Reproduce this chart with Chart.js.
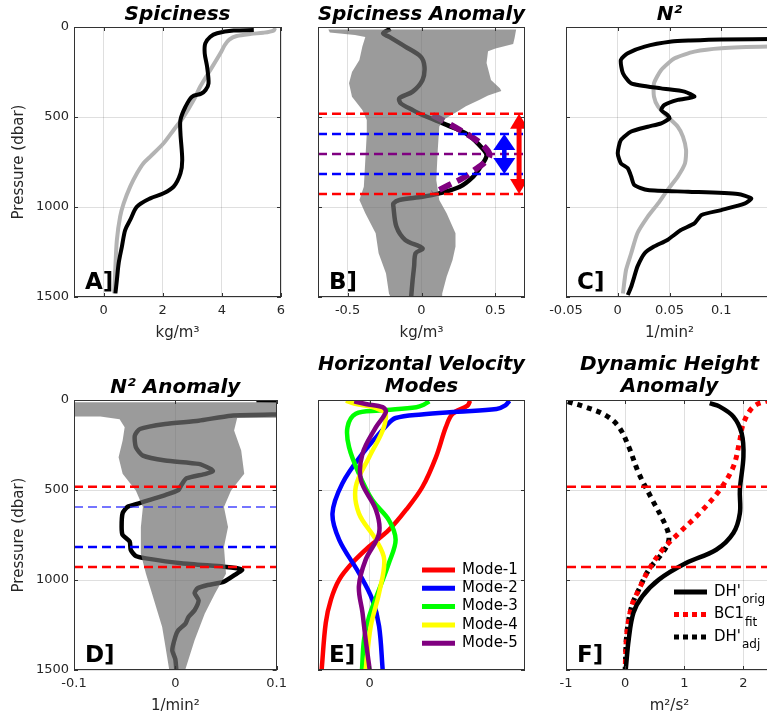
<!DOCTYPE html>
<html>
<head>
<meta charset="utf-8">
<script src="https://cdn.jsdelivr.net/npm/chart.js@4.4.1/dist/chart.umd.min.js"></script>
<style>
  html, body { margin: 0; padding: 0; background: #fff; width: 767px; height: 721px; overflow: hidden; }
  canvas { position: absolute; }
</style>
</head>
<body>
<canvas id="panelA" width="293" height="342" style="left:0px;top:0px"></canvas>
<canvas id="panelB" width="293" height="342" style="left:244px;top:0px"></canvas>
<canvas id="panelC" width="293" height="342" style="left:492px;top:0px"></canvas>
<canvas id="panelD" width="293" height="375" style="left:0px;top:340px"></canvas>
<canvas id="panelE" width="293" height="375" style="left:244px;top:340px"></canvas>
<canvas id="panelF" width="293" height="375" style="left:492px;top:340px"></canvas>
<script>
// ---------------- data: every profile is a list of [pressure (dbar), value] ----------------
const pressureTicks = [0, 500, 1000, 1500];

// A] spiciness (kg/m^3)
const spiceTicks = [0, 2, 4, 6];
const spiceMean = [[5,5.8],[20,5.75],[32,5.4],[38,5.0],[50,4.5],[70,4.25],[100,4.1],[146,3.95],[239,3.61],[331,3.27],[405,3.05],[498,2.71],[572,2.37],[646,2.03],[720,1.58],[757,1.35],[813,1.13],[887,0.9],[980,0.68],[1054,0.56],[1183,0.45],[1331,0.4],[1480,0.36]];
const spiceStation = [[17,5.08],[20,4.4],[35,3.84],[54,3.61],[91,3.44],[146,3.42],[220,3.5],[313,3.55],[350,3.45],[370,3.3],[387,2.99],[443,2.77],[516,2.6],[591,2.6],[739,2.66],[813,2.6],[887,2.37],[924,2.03],[952,1.58],[998,1.13],[1072,0.9],[1128,0.73],[1220,0.62],[1313,0.51],[1406,0.45],[1480,0.4]];

// B] spiciness anomaly (kg/m^3)
const spiceAnomTicks = [-0.5, 0, 0.5];
const spiceAnom = [[10,-0.21],[35,-0.26],[54,-0.22],[109,-0.11],[165,-0.005],[220,0.02],[294,0.007],[359,-0.06],[396,-0.15],[424,-0.14],[461,-0.06],[489,0.007],[544,0.17],[591,0.3],[655,0.39],[711,0.44],[776,0.4],[831,0.35],[887,0.26],[924,0.12],[943,0.007],[961,-0.15],[980,-0.19],[998,-0.19],[1109,-0.17],[1183,-0.11],[1230,0.007],[1257,-0.04],[1331,-0.05],[1406,-0.06],[1500,-0.07]];
const spiceAnomFit = [[489,0.075],[530,0.17],[572,0.26],[628,0.37],[670,0.43],[711,0.46],[750,0.43],[776,0.39],[839,0.28],[880,0.18],[924,0.075]];
const spiceAnomEnvLow = [[14,-0.63],[30,-0.62],[45,-0.45],[55,-0.38],[109,-0.4],[183,-0.42],[250,-0.47],[313,-0.49],[387,-0.47],[461,-0.4],[516,-0.37],[591,-0.37],[739,-0.38],[887,-0.39],[961,-0.42],[1035,-0.38],[1146,-0.31],[1257,-0.29],[1369,-0.24],[1480,-0.22],[1500,-0.21]];
const spiceAnomEnvHigh = [[14,0.64],[60,0.63],[95,0.62],[120,0.5],[135,0.45],[200,0.44],[294,0.47],[340,0.53],[355,0.54],[380,0.45],[405,0.39],[440,0.3],[461,0.26],[510,0.16],[553,0.12],[683,0.11],[850,0.1],[961,0.12],[1035,0.17],[1146,0.23],[1220,0.23],[1294,0.21],[1387,0.17],[1480,0.14],[1500,0.14]];

// eddy bounds shared by B, D and F (dbar)
const outerBounds = [482, 928];
const innerBounds = [594, 816];
const coreDepth = 705;
const outerArrowX = 0.66;
const innerArrowX = 0.56;

// C] N^2 (1/min^2)
const n2Ticks = [-0.05, 0, 0.05, 0.1];
const n2Station = [[55,0.4],[67,0.16],[69,0.1],[75,0.07],[81,0.052],[109,0.026],[146,0.0097],[183,0.003],[257,0.005],[313,0.013],[341,0.042],[359,0.0645],[387,0.074],[405,0.058],[433,0.045],[461,0.042],[489,0.048],[507,0.05],[535,0.042],[554,0.029],[581,0.013],[628,0.003],[702,0.0],[757,0.003],[785,0.0097],[831,0.013],[878,0.016],[906,0.029],[915,0.068],[928,0.116],[952,0.129],[980,0.123],[1017,0.1],[1044,0.081],[1091,0.074],[1128,0.061],[1183,0.048],[1220,0.035],[1257,0.026],[1331,0.019],[1387,0.016],[1443,0.013],[1489,0.0097]];
const n2Mean = [[100,0.25],[109,0.146],[118,0.1],[137,0.074],[174,0.055],[239,0.042],[313,0.035],[387,0.035],[443,0.039],[498,0.048],[554,0.058],[609,0.063],[683,0.066],[757,0.065],[831,0.058],[906,0.048],[980,0.039],[1054,0.029],[1146,0.019],[1257,0.013],[1350,0.008],[1480,0.005]];

// D] N^2 anomaly (1/min^2)
const n2AnomTicks = [-0.1, 0, 0.1];
const n2Anom = [[2,0.08],[5,0.2],[40,0.3],[72,0.2],[80,0.1],[87,0.055],[115,0.023],[133,-0.01],[161,-0.035],[198,-0.04],[262,-0.039],[309,-0.032],[336,-0.01],[355,0.023],[383,0.035],[395,0.037],[410,0.03],[435,0.011],[472,0.006],[500,0.003],[528,-0.01],[556,-0.026],[574,-0.036],[593,-0.047],[628,-0.052],[704,-0.053],[750,-0.052],[787,-0.045],[833,-0.044],[867,-0.039],[880,-0.029],[907,0.006],[926,0.048],[935,0.061],[944,0.066],[963,0.061],[1009,0.048],[1028,0.032],[1046,0.022],[1072,0.019],[1113,0.023],[1168,0.019],[1205,0.013],[1242,0.01],[1279,0.003],[1316,0.0],[1390,-0.003],[1440,0.0],[1500,0.001]];
const n2AnomEnvLow = [[12,-0.3],[90,-0.3],[92,-0.074],[107,-0.055],[152,-0.05],[225,-0.052],[318,-0.056],[410,-0.052],[503,-0.039],[595,-0.032],[706,-0.034],[854,-0.034],[965,-0.029],[1057,-0.024],[1150,-0.019],[1261,-0.013],[1372,-0.0097],[1500,-0.006]];
const n2AnomEnvHigh = [[12,0.3],[88,0.3],[100,0.061],[170,0.058],[281,0.065],[410,0.068],[503,0.055],[595,0.048],[706,0.052],[817,0.048],[965,0.05],[1076,0.039],[1187,0.029],[1335,0.019],[1500,0.0097]];

// E] horizontal velocity modes
const modeTicks = [0];
const modeNames = ['Mode-1', 'Mode-2', 'Mode-3', 'Mode-4', 'Mode-5'];
const modeColors = ['#ff0000', '#0000ff', '#00ff00', '#ffff00', '#800080'];
const mode1 = [[4,1.94],[31,1.89],[77,1.6],[151,1.47],[317,1.28],[482,1.02],[611,0.7],[722,0.37],[814,-0.01],[906,-0.34],[998,-0.59],[1109,-0.75],[1238,-0.85],[1500,-0.93]];
const mode2 = [[4,2.7],[30,2.62],[50,2.45],[65,1.7],[80,1.0],[100,0.5],[140,0.33],[298,-0.14],[464,-0.53],[630,-0.72],[777,-0.59],[961,-0.21],[1109,0.05],[1256,0.18],[1500,0.25]];
const mode3 = [[7,1.15],[25,1.05],[40,0.9],[59,0.18],[77,-0.27],[151,-0.43],[262,-0.4],[409,-0.21],[556,0.05],[667,0.37],[777,0.5],[906,0.37],[1053,0.18],[1201,-0.01],[1330,-0.11],[1500,-0.15]];
const mode4 = [[4,-0.46],[20,-0.3],[35,0.0],[55,0.2],[77,0.31],[169,0.25],[317,-0.01],[482,-0.27],[630,-0.21],[777,0.12],[888,0.28],[1072,0.18],[1256,0.02],[1500,-0.08]];
const mode5 = [[7,-0.3],[22,-0.08],[40,0.25],[68,0.31],[151,0.12],[298,-0.14],[446,-0.17],[611,0.12],[740,0.18],[888,-0.08],[1035,-0.21],[1182,-0.14],[1330,-0.08],[1500,0.0]];

// F] dynamic height anomaly (m^2/s^2)
const dhTicks = [-1, 0, 1, 2];
const dhOrig = [[18,1.43],[37,1.6],[92,1.83],[185,1.97],[314,2.0],[499,1.94],[628,1.94],[739,1.83],[832,1.54],[906,1.03],[998,0.57],[1091,0.29],[1183,0.14],[1331,0.06],[1497,0.01]];
const bc1Fit = [[0,2.45],[37,2.17],[129,2.0],[222,1.94],[370,1.83],[499,1.6],[628,1.26],[739,0.91],[832,0.63],[943,0.4],[1054,0.23],[1146,0.11],[1294,0.03],[1497,0.0]];
const dhAdj = [[9,-0.97],[37,-0.69],[83,-0.34],[148,-0.11],[259,0.06],[407,0.23],[555,0.46],[702,0.69],[776,0.74],[850,0.63],[943,0.4],[1054,0.23],[1146,0.11],[1294,0.03],[1497,0.0]];

// ---------------- drawing ----------------
const FONT = 'DejaVu Sans';
const AXIS_W = 74, AXIS_H = 45, PAD_R = 12;
const GRID = 'rgba(38,38,38,0.15)';
const ENVELOPE = 'rgba(112,112,112,0.7)';

Chart.defaults.font.family = FONT;

const pts = arr => arr.map(([p, v]) => ({ x: v, y: p }));
const envelope = (low, high) => pts(low.concat(high.slice().reverse()));

function profile(data, color, width, order, extra) {
  return Object.assign({ data: pts(data), borderColor: color, borderWidth: width, order,
    fill: false, tension: 0.3, pointRadius: 0 }, extra || {});
}
function band(low, high, order) {
  return { data: envelope(low, high), borderWidth: 0, borderColor: 'rgba(0,0,0,0)',
    backgroundColor: ENVELOPE, fill: 'shape', tension: 0, order, pointRadius: 0 };
}
function hline(p, xr, color, width, dash, order) {
  return { data: [{ x: xr[0], y: p }, { x: xr[1], y: p }], borderColor: color, borderWidth: width,
    borderDash: dash, tension: 0, fill: false, order, pointRadius: 0 };
}

const decorPlugin = {
  id: 'decor',
  afterDatasetsDraw(chart, args, opts) {
    const { ctx, chartArea: a, scales: { x, y } } = chart;
    ctx.save();
    ctx.beginPath();
    ctx.rect(a.left, a.top, a.width, a.height);
    ctx.clip();
    // double-headed arrows marking the eddy extent
    (opts.arrows || []).forEach(ar => {
      const xp = x.getPixelForValue(ar.x);
      const y1 = y.getPixelForValue(ar.from), y2 = y.getPixelForValue(ar.to);
      ctx.strokeStyle = ar.color; ctx.fillStyle = ar.color; ctx.lineWidth = ar.width;
      ctx.beginPath(); ctx.moveTo(xp, y1 + ar.head - 2); ctx.lineTo(xp, y2 - ar.head + 2); ctx.stroke();
      ctx.beginPath(); ctx.moveTo(xp, y1); ctx.lineTo(xp - ar.half, y1 + ar.head); ctx.lineTo(xp + ar.half, y1 + ar.head); ctx.closePath(); ctx.fill();
      ctx.beginPath(); ctx.moveTo(xp, y2); ctx.lineTo(xp - ar.half, y2 - ar.head); ctx.lineTo(xp + ar.half, y2 - ar.head); ctx.closePath(); ctx.fill();
    });
    // in-axes legend
    const lg = opts.legend;
    if (lg) {
      lg.items.forEach((it, i) => {
        const yy = a.bottom + lg.y0 + i * lg.step;
        const x0 = lg.fromRight ? a.right + lg.x0 : a.left + lg.x0;
        ctx.strokeStyle = it.color; ctx.lineWidth = 5; ctx.setLineDash(it.dash || []);
        ctx.beginPath(); ctx.moveTo(x0, yy); ctx.lineTo(x0 + 33, yy); ctx.stroke();
        ctx.setLineDash([]);
        ctx.fillStyle = '#000'; ctx.textBaseline = 'middle'; ctx.textAlign = 'left';
        ctx.font = '15px "' + FONT + '"';
        ctx.fillText(it.text, x0 + 40, yy);
        if (it.sub) {
          const w = ctx.measureText(it.text).width;
          ctx.font = '12px "' + FONT + '"';
          ctx.fillText(it.sub, x0 + 40 + w + 1, yy + 8);
        }
      });
    }
    // panel letter
    ctx.fillStyle = '#000'; ctx.textBaseline = 'alphabetic'; ctx.textAlign = 'left';
    ctx.font = 'bold 23px "' + FONT + '"';
    ctx.fillText(opts.letter, a.left + 11, a.bottom - 8);
    ctx.restore();
    // axes box with inward tick marks
    ctx.save();
    ctx.strokeStyle = '#333'; ctx.lineWidth = 1;
    ctx.strokeRect(Math.round(a.left) + 0.5, Math.round(a.top) + 0.5, Math.round(a.width) - 1, Math.round(a.height) - 1);
    ctx.beginPath();
    x.ticks.forEach(t => {
      const px = Math.round(x.getPixelForValue(t.value)) + 0.5;
      ctx.moveTo(px, a.top); ctx.lineTo(px, a.top + 4);
      ctx.moveTo(px, a.bottom); ctx.lineTo(px, a.bottom - 4);
    });
    y.ticks.forEach(t => {
      const py = Math.round(y.getPixelForValue(t.value)) + 0.5;
      ctx.moveTo(a.left, py); ctx.lineTo(a.left + 4, py);
      ctx.moveTo(a.right, py); ctx.lineTo(a.right - 4, py);
    });
    ctx.stroke();
    ctx.restore();
  }
};

function fmt(v) { return String(v); }

function makePanel(id, cfg) {
  return new Chart(document.getElementById(id), {
    type: 'line',
    data: { datasets: cfg.datasets },
    options: {
      responsive: false,
      animation: false,
      devicePixelRatio: 1,
      events: [],
      layout: { padding: { left: 0, right: PAD_R, top: 0, bottom: 0 } },
      elements: { point: { radius: 0 }, line: { capBezierPoints: false, borderCapStyle: 'butt' } },
      plugins: {
        legend: { display: false },
        tooltip: { enabled: false },
        title: {
          display: true, text: cfg.title, fullSize: false, color: '#000',
          font: { family: FONT, size: 20, weight: 'bold', style: 'italic', lineHeight: 1.125 },
          padding: cfg.titlePad
        },
        decor: cfg.decor
      },
      scales: {
        x: {
          type: 'linear', min: cfg.xRange[0], max: cfg.xRange[1],
          afterBuildTicks: s => { s.ticks = cfg.xTicks.map(v => ({ value: v })); },
          afterFit: s => { s.height = AXIS_H; },
          grid: { color: GRID, lineWidth: 1, drawTicks: false },
          border: { display: false },
          ticks: { padding: 6, color: '#262626', font: { family: FONT, size: 13 }, maxRotation: 0, autoSkip: false, callback: fmt },
          title: { display: !!cfg.xTitle, text: cfg.xTitle || '', color: '#262626', font: { family: FONT, size: 15 }, padding: { top: 1.5, bottom: 0 } }
        },
        y: {
          type: 'linear', reverse: true, min: 0, max: 1500,
          afterBuildTicks: s => { s.ticks = pressureTicks.map(v => ({ value: v })); },
          afterFit: s => { s.width = AXIS_W; },
          grid: { color: GRID, lineWidth: 1, drawTicks: false },
          border: { display: false },
          ticks: { display: !!cfg.yLabels, padding: 5, color: '#262626', font: { family: FONT, size: 13 }, callback: fmt },
          title: { display: !!cfg.yLabels, text: 'Pressure (dbar)', color: '#262626', font: { family: FONT, size: 15 }, padding: { top: 10, bottom: 0 } }
        }
      }
    },
    plugins: [decorPlugin]
  });
}

const ROW1_PAD = { top: 3.25, bottom: 1.25 };
const ROW2_PAD1 = { top: 36.75, bottom: 0.75 };
const ROW2_PAD2 = { top: 13.25, bottom: 1.75 };

// A] Spiciness
makePanel('panelA', {
  title: 'Spiciness', titlePad: ROW1_PAD, xRange: [-1, 6], xTicks: spiceTicks, xTitle: 'kg/m³', yLabels: true,
  datasets: [
    profile(spiceStation, '#000000', 4, 1),
    profile(spiceMean, '#b3b3b3', 4, 2)
  ],
  decor: { letter: 'A]' }
});

// B] Spiciness anomaly
const bRange = [-0.7, 0.7];
makePanel('panelB', {
  title: 'Spiciness Anomaly', titlePad: ROW1_PAD, xRange: bRange, xTicks: spiceAnomTicks, xTitle: 'kg/m³',
  datasets: [
    hline(outerBounds[0], bRange, '#ff0000', 2.5, [9, 5], 1),
    hline(outerBounds[1], bRange, '#ff0000', 2.5, [9, 5], 1),
    hline(innerBounds[0], bRange, '#0000ff', 2.5, [9, 5], 1),
    hline(innerBounds[1], bRange, '#0000ff', 2.5, [9, 5], 1),
    hline(coreDepth, bRange, '#800080', 2.5, [9, 5], 1),
    band(spiceAnomEnvLow, spiceAnomEnvHigh, 2),
    profile(spiceAnomFit, '#800080', 6, 3, { borderDash: [13, 7], tension: 0.4 }),
    profile(spiceAnom, '#000000', 4.5, 4)
  ],
  decor: {
    letter: 'B]',
    arrows: [
      { x: outerArrowX, from: outerBounds[0], to: outerBounds[1], color: '#ff0000', width: 5, head: 15, half: 9 },
      { x: innerArrowX, from: innerBounds[0], to: innerBounds[1], color: '#0000ff', width: 4.5, head: 16, half: 11 }
    ]
  }
});

// C] N^2
makePanel('panelC', {
  title: 'N²', titlePad: ROW1_PAD, xRange: [-0.05, 0.15], xTicks: n2Ticks, xTitle: '1/min²',
  datasets: [
    profile(n2Station, '#000000', 4, 1, { tension: 0.2 }),
    profile(n2Mean, '#b3b3b3', 4, 2, { tension: 0.2 })
  ],
  decor: { letter: 'C]' }
});

// D] N^2 anomaly
const dRange = [-0.1, 0.1];
makePanel('panelD', {
  title: 'N² Anomaly', titlePad: ROW2_PAD1, xRange: dRange, xTicks: n2AnomTicks, xTitle: '1/min²', yLabels: true,
  datasets: [
    hline(outerBounds[0], dRange, '#ff0000', 2.5, [9, 5], 1),
    hline(outerBounds[1], dRange, '#ff0000', 2.5, [9, 5], 1),
    hline(innerBounds[0], dRange, 'rgba(40,40,255,0.85)', 1.5, [9, 5], 1),
    hline(innerBounds[1], dRange, '#0000ff', 2.5, [9, 5], 1),
    band(n2AnomEnvLow, n2AnomEnvHigh, 2),
    profile(n2Anom, '#000000', 4.5, 3, { tension: 0.2 })
  ],
  decor: { letter: 'D]' }
});

// E] Horizontal velocity modes
const modes = [mode1, mode2, mode3, mode4, mode5];
makePanel('panelE', {
  title: ['Horizontal Velocity', 'Modes'], titlePad: ROW2_PAD2, xRange: [-1, 3], xTicks: modeTicks,
  datasets: modes.map((m, i) => profile(m, modeColors[i], 4.5, 5 - i, { tension: 0.35 })),
  decor: {
    letter: 'E]',
    legend: { fromRight: true, x0: -103, y0: -100, step: 18.3,
      items: modeNames.map((n, i) => ({ text: n, color: modeColors[i] })) }
  }
});

// F] Dynamic height anomaly
const fRange = [-1, 2.5];
makePanel('panelF', {
  title: ['Dynamic Height', 'Anomaly'], titlePad: ROW2_PAD2, xRange: fRange, xTicks: dhTicks, xTitle: 'm²/s²',
  datasets: [
    hline(outerBounds[0], fRange, '#ff0000', 2.5, [10, 5], 1),
    hline(outerBounds[1], fRange, '#ff0000', 2.5, [10, 5], 1),
    profile(dhOrig, '#000000', 4.5, 2, { tension: 0.35 }),
    profile(bc1Fit, '#ff0000', 5, 3, { tension: 0.35, borderDash: [5, 5] }),
    profile(dhAdj, '#000000', 5, 4, { tension: 0.35, borderDash: [5, 5] })
  ],
  decor: {
    letter: 'F]',
    legend: { fromRight: false, x0: 108, y0: -78, step: 22.5,
      items: [
        { text: "DH'", sub: 'orig', color: '#000000' },
        { text: 'BC1', sub: 'fit', color: '#ff0000', dash: [5, 4] },
        { text: "DH'", sub: 'adj', color: '#000000', dash: [5, 4] }
      ] }
  }
});
</script>
</body>
</html>
